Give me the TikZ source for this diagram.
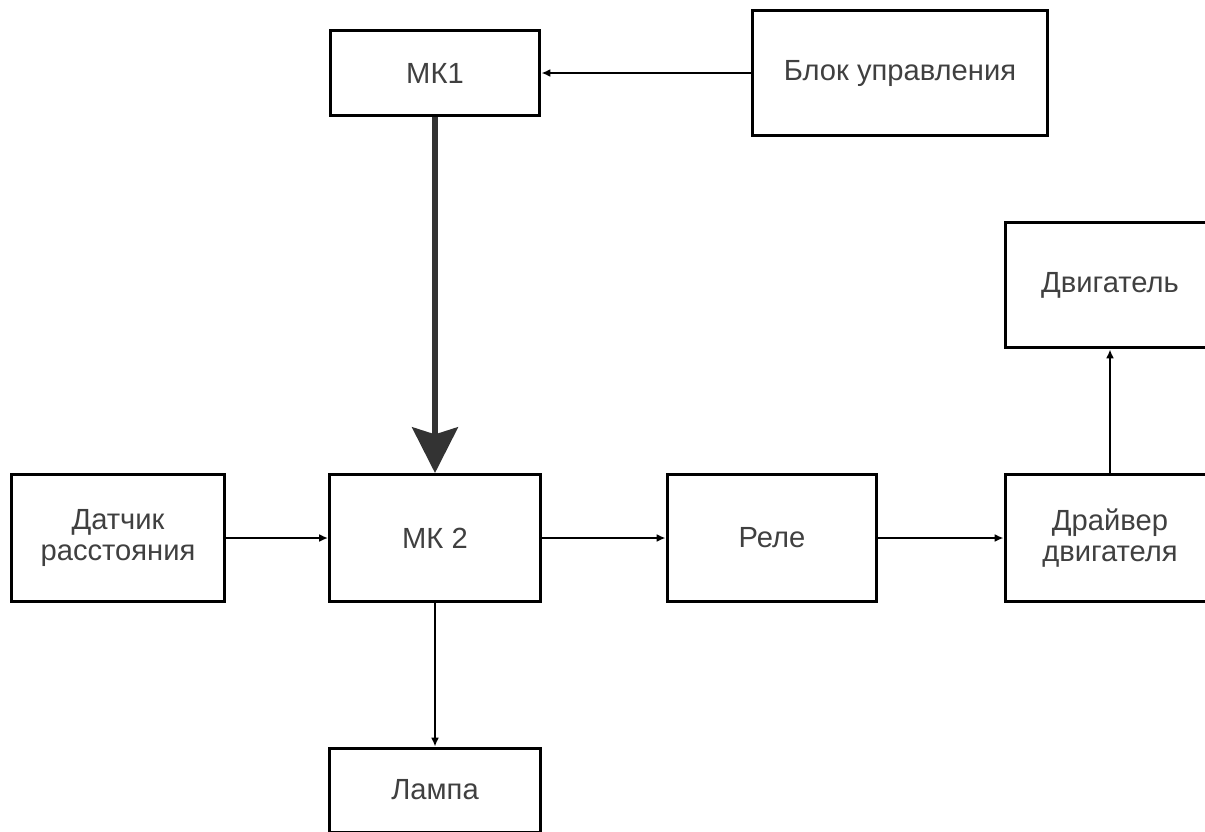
\documentclass[tikz,border=0pt]{standalone}
\usepackage{fontspec}
\setmainfont{Liberation Sans}
\usetikzlibrary{arrows.meta}
\definecolor{txtgray}{HTML}{404040}
\definecolor{bigarr}{HTML}{333333}
\tikzset{
  blk/.style={draw=black,line width=1.7pt,fill=white,align=center,text=txtgray,
    font=\fontsize{16.6}{17.5}\selectfont,inner sep=2pt},
  lnk/.style={line width=1.7pt,-{Latex[length=5pt,width=4.5pt]}},
  biglnk/.style={draw=bigarr,line width=3.4pt,-{Stealth[length=26pt,width=26pt,inset=4pt]}}
}
\begin{document}
\begin{tikzpicture}[x=0.02cm,y=-0.02cm]
\useasboundingbox (0,0) rectangle (1205,832);
%blocks
\node[blk,minimum width=4.2cm,minimum height=1.7cm] (mk1) at (435,73){МК1};
\node[blk,minimum width=5.9cm,minimum height=2.5cm] (upr) at (900,73){Блок управления};
\node[blk,minimum width=4.2cm,minimum height=2.52cm] (dvig) at (1110,285){Двигатель};
\node[blk,minimum width=4.26cm,minimum height=2.54cm] (dat) at (118,538){Датчик\\расстояния};
\node[blk,minimum width=4.22cm,minimum height=2.54cm] (mk2) at (435,538){МК 2};
\node[blk,minimum width=4.2cm,minimum height=2.54cm] (rele) at (772,538){Реле};
\node[blk,minimum width=4.2cm,minimum height=2.54cm] (drv) at (1110,538){Драйвер\\двигателя};
\node[blk,minimum width=4.22cm,minimum height=1.68cm] (lamp) at (435,790){Лампа};

%links
\draw[lnk](upr.west)--(mk1.east);
\draw[biglnk](mk1.south)--(mk2.north);
\draw[lnk](dat.east)--(mk2.west);
\draw[lnk](mk2.east)--(rele.west);
\draw[lnk](rele.east)--(drv.west);
\draw[lnk](drv.north)--(dvig.south);
\draw[lnk](mk2.south)--(lamp.north);
\end{tikzpicture}
\end{document}
